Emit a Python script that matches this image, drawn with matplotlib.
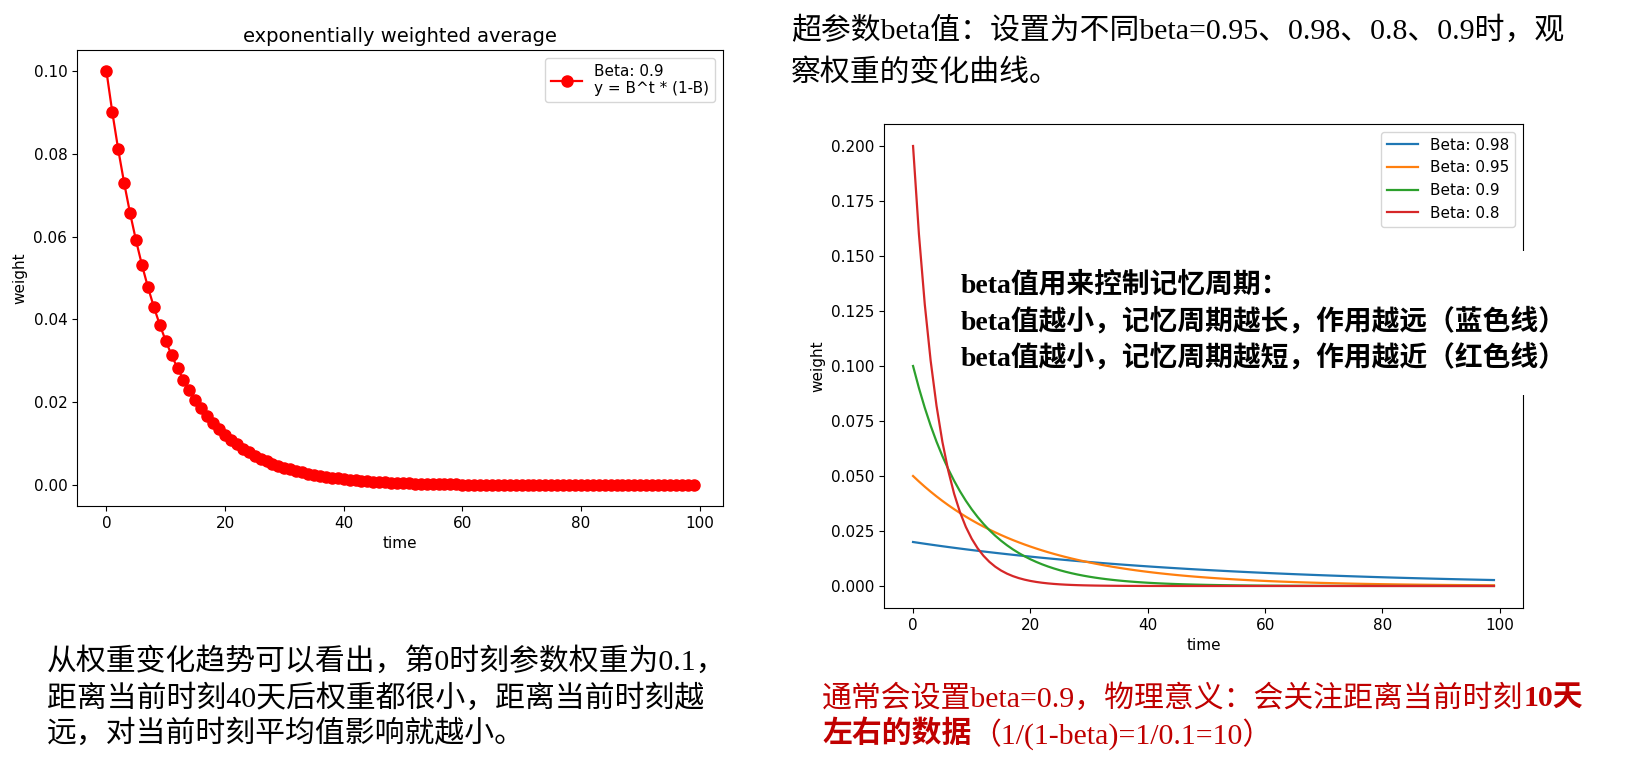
import matplotlib
matplotlib.use("Agg")
import matplotlib.pyplot as plt
from matplotlib.patches import Rectangle

# time steps 0..99
time_steps = list(range(100))

# weight = beta^t * (1 - beta)
weights_090 = [
    0.1, 0.09, 0.081, 0.0729, 0.06561, 0.059049, 0.053144, 0.04783, 0.043047, 0.038742,
    0.034868, 0.031381, 0.028243, 0.025419, 0.022877, 0.020589, 0.01853, 0.016677, 0.01501, 0.013509,
    0.012158, 0.010942, 0.009848, 0.008863, 0.007977, 0.007179, 0.006461, 0.005815, 0.005234, 0.00471,
    0.004239, 0.003815, 0.003434, 0.00309, 0.002781, 0.002503, 0.002253, 0.002028, 0.001825, 0.001642,
    0.001478, 0.00133, 0.001197, 0.001078, 0.00097, 0.000873, 0.000786, 0.000707, 0.000636, 0.000573,
    0.000515, 0.000464, 0.000418, 0.000376, 0.000338, 0.000304, 0.000274, 0.000247, 0.000222, 0.0002,
    0.00018, 0.000162, 0.000146, 0.000131, 0.000118, 0.000106, 0.000096, 0.000086, 0.000077, 0.00007,
    0.000063, 0.000056, 0.000051, 0.000046, 0.000041, 0.000037, 0.000033, 0.00003, 0.000027, 0.000024,
    0.000022, 0.00002, 0.000018, 0.000016, 0.000014, 0.000013, 0.000012, 0.00001, 0.000009, 0.000008,
    0.000008, 0.000007, 0.000006, 0.000006, 0.000005, 0.000005, 0.000004, 0.000004, 0.000003, 0.000003,
]
weights_098 = [
    0.02, 0.0196, 0.019208, 0.018824, 0.018447, 0.018078, 0.017717, 0.017363, 0.017015, 0.016675,
    0.016341, 0.016015, 0.015694, 0.01538, 0.015073, 0.014771, 0.014476, 0.014186, 0.013903, 0.013625,
    0.013352, 0.013085, 0.012823, 0.012567, 0.012316, 0.012069, 0.011828, 0.011591, 0.01136, 0.011132,
    0.01091, 0.010691, 0.010478, 0.010268, 0.010063, 0.009861, 0.009664, 0.009471, 0.009281, 0.009096,
    0.008914, 0.008735, 0.008561, 0.00839, 0.008222, 0.008057, 0.007896, 0.007738, 0.007584, 0.007432,
    0.007283, 0.007138, 0.006995, 0.006855, 0.006718, 0.006584, 0.006452, 0.006323, 0.006196, 0.006072,
    0.005951, 0.005832, 0.005715, 0.005601, 0.005489, 0.005379, 0.005272, 0.005166, 0.005063, 0.004962,
    0.004863, 0.004765, 0.00467, 0.004577, 0.004485, 0.004396, 0.004308, 0.004222, 0.004137, 0.004055,
    0.003973, 0.003894, 0.003816, 0.00374, 0.003665, 0.003592, 0.00352, 0.003449, 0.00338, 0.003313,
    0.003246, 0.003181, 0.003118, 0.003055, 0.002994, 0.002934, 0.002876, 0.002818, 0.002762, 0.002707,
]
weights_095 = [
    0.05, 0.0475, 0.045125, 0.042869, 0.040725, 0.038689, 0.036755, 0.034917, 0.033171, 0.031512,
    0.029937, 0.02844, 0.027018, 0.025667, 0.024384, 0.023165, 0.022006, 0.020906, 0.019861, 0.018868,
    0.017924, 0.017028, 0.016177, 0.015368, 0.014599, 0.01387, 0.013176, 0.012517, 0.011891, 0.011297,
    0.010732, 0.010195, 0.009686, 0.009201, 0.008741, 0.008304, 0.007889, 0.007495, 0.00712, 0.006764,
    0.006426, 0.006104, 0.005799, 0.005509, 0.005234, 0.004972, 0.004723, 0.004487, 0.004263, 0.00405,
    0.003847, 0.003655, 0.003472, 0.003299, 0.003134, 0.002977, 0.002828, 0.002687, 0.002552, 0.002425,
    0.002304, 0.002188, 0.002079, 0.001975, 0.001876, 0.001782, 0.001693, 0.001609, 0.001528, 0.001452,
    0.001379, 0.00131, 0.001245, 0.001183, 0.001123, 0.001067, 0.001014, 0.000963, 0.000915, 0.000869,
    0.000826, 0.000785, 0.000745, 0.000708, 0.000673, 0.000639, 0.000607, 0.000577, 0.000548, 0.00052,
    0.000494, 0.00047, 0.000446, 0.000424, 0.000403, 0.000383, 0.000363, 0.000345, 0.000328, 0.000312,
]
weights_080 = [
    0.2, 0.16, 0.128, 0.1024, 0.08192, 0.065536, 0.052429, 0.041943, 0.033554, 0.026844,
    0.021475, 0.01718, 0.013744, 0.010995, 0.008796, 0.007037, 0.005629, 0.004504, 0.003603, 0.002882,
    0.002306, 0.001845, 0.001476, 0.001181, 0.000944, 0.000756, 0.000604, 0.000484, 0.000387, 0.000309,
    0.000248, 0.000198, 0.000158, 0.000127, 0.000101, 0.000081, 0.000065, 0.000052, 0.000042, 0.000033,
    0.000027, 0.000021, 0.000017, 0.000014, 0.000011, 0.000009, 0.000007, 0.000006, 0.000005, 0.000004,
    0.000003, 0.000002, 0.000002, 0.000002, 0.000001, 0.000001, 0.000001, 0.000001, 0.000001, 0.0,
    0.0, 0.0, 0.0, 0.0, 0.0, 0.0, 0.0, 0.0, 0.0, 0.0,
    0.0, 0.0, 0.0, 0.0, 0.0, 0.0, 0.0, 0.0, 0.0, 0.0,
    0.0, 0.0, 0.0, 0.0, 0.0, 0.0, 0.0, 0.0, 0.0, 0.0,
    0.0, 0.0, 0.0, 0.0, 0.0, 0.0, 0.0, 0.0, 0.0, 0.0,
]

beta_labels = ["Beta: 0.98", "Beta: 0.95", "Beta: 0.9", "Beta: 0.8"]
beta_series = [weights_098, weights_095, weights_090, weights_080]

top_lines = ["超参数beta值：设置为不同beta=0.95、0.98、0.8、0.9时，观", "察权重的变化曲线。"]
left_lines = [
    "从权重变化趋势可以看出，第0时刻参数权重为0.1，",
    "距离当前时刻40天后权重都很小，距离当前时刻越",
    "远，对当前时刻平均值影响就越小。",
]
box_lines = [
    "beta值用来控制记忆周期：",
    "beta值越小，记忆周期越长，作用越远（蓝色线）",
    "beta值越小，记忆周期越短，作用越近（红色线）",
]
# (text, bold) pieces for the red note
red_lines = [
    [("通常会设置beta=0.9，物理意义：会关注距离当前时刻", False), ("10天", True)],
    [("左右的数据", True), ("（1/(1-beta)=1/0.1=10）", False)],
]

plt.rcParams["xtick.labelsize"] = 11
plt.rcParams["ytick.labelsize"] = 11
plt.rcParams["axes.labelsize"] = 11
plt.rcParams["legend.fontsize"] = 11

W, H = 1638, 777
fig = plt.figure(figsize=(W / 100, H / 100), dpi=100)
cjk = ["Liberation Serif", "Noto Sans CJK SC"]


def fx(px):
    return px / W


def fy(py):
    return 1 - py / H


# left chart
ax1 = fig.add_axes([fx(77), fy(506), fx(723 - 77), (506 - 50) / H])
ax1.plot(time_steps, weights_090, "o-", color="red", markersize=8, linewidth=1.6,
         label="Beta: 0.9\ny = B^t * (1-B)")
ax1.set_title("exponentially weighted average", fontsize=14)
ax1.set_xlabel("time")
ax1.set_ylabel("weight")
ax1.set_yticks([0.0, 0.02, 0.04, 0.06, 0.08, 0.10])
ax1.legend(loc="upper right")

# right chart
ax2 = fig.add_axes([fx(884), fy(608), fx(1523 - 884), (608 - 124) / H])
for vals, lab in zip(beta_series, beta_labels):
    ax2.plot(time_steps, vals, linewidth=1.6, label=lab)
ax2.set_xlabel("time")
ax2.set_ylabel("weight")
ax2.legend(loc="upper right")

# white patch behind the bold note (hides part of the right spine)
fig.patches.append(Rectangle((fx(945), fy(395)), fx(1580 - 945), (395 - 251) / H,
                             transform=fig.transFigure, facecolor="white",
                             edgecolor="none", zorder=2))

for line, y in zip(top_lines, [31, 73]):
    fig.text(fx(791), fy(y), line, family=cjk, fontsize=21.5, va="center", ha="left")

for line, y in zip(left_lines, [661, 698, 734]):
    fig.text(fx(47), fy(y), line, family=cjk, fontsize=21.5, va="center", ha="left")

for line, y in zip(box_lines, [285, 322, 358]):
    fig.text(fx(961), fy(y), line, family=cjk, fontsize=20, fontweight="bold",
             va="center", ha="left", zorder=3)

red = "#c00000"
for pieces, y in zip(red_lines, [698, 734]):
    prev = None
    for txt, bold in pieces:
        wt = "bold" if bold else "normal"
        if prev is None:
            prev = fig.text(fx(822), fy(y), txt, family=cjk, fontsize=21.5, color=red,
                            fontweight=wt, va="center", ha="left")
        else:
            # chain the next piece right after the previous one
            prev = ax2.annotate(txt, xy=(1, 0.5), xycoords=prev, va="center", ha="left",
                                family=cjk, fontsize=21.5, color=red, fontweight=wt,
                                annotation_clip=False)

fig.savefig("out.png", dpi=100)
